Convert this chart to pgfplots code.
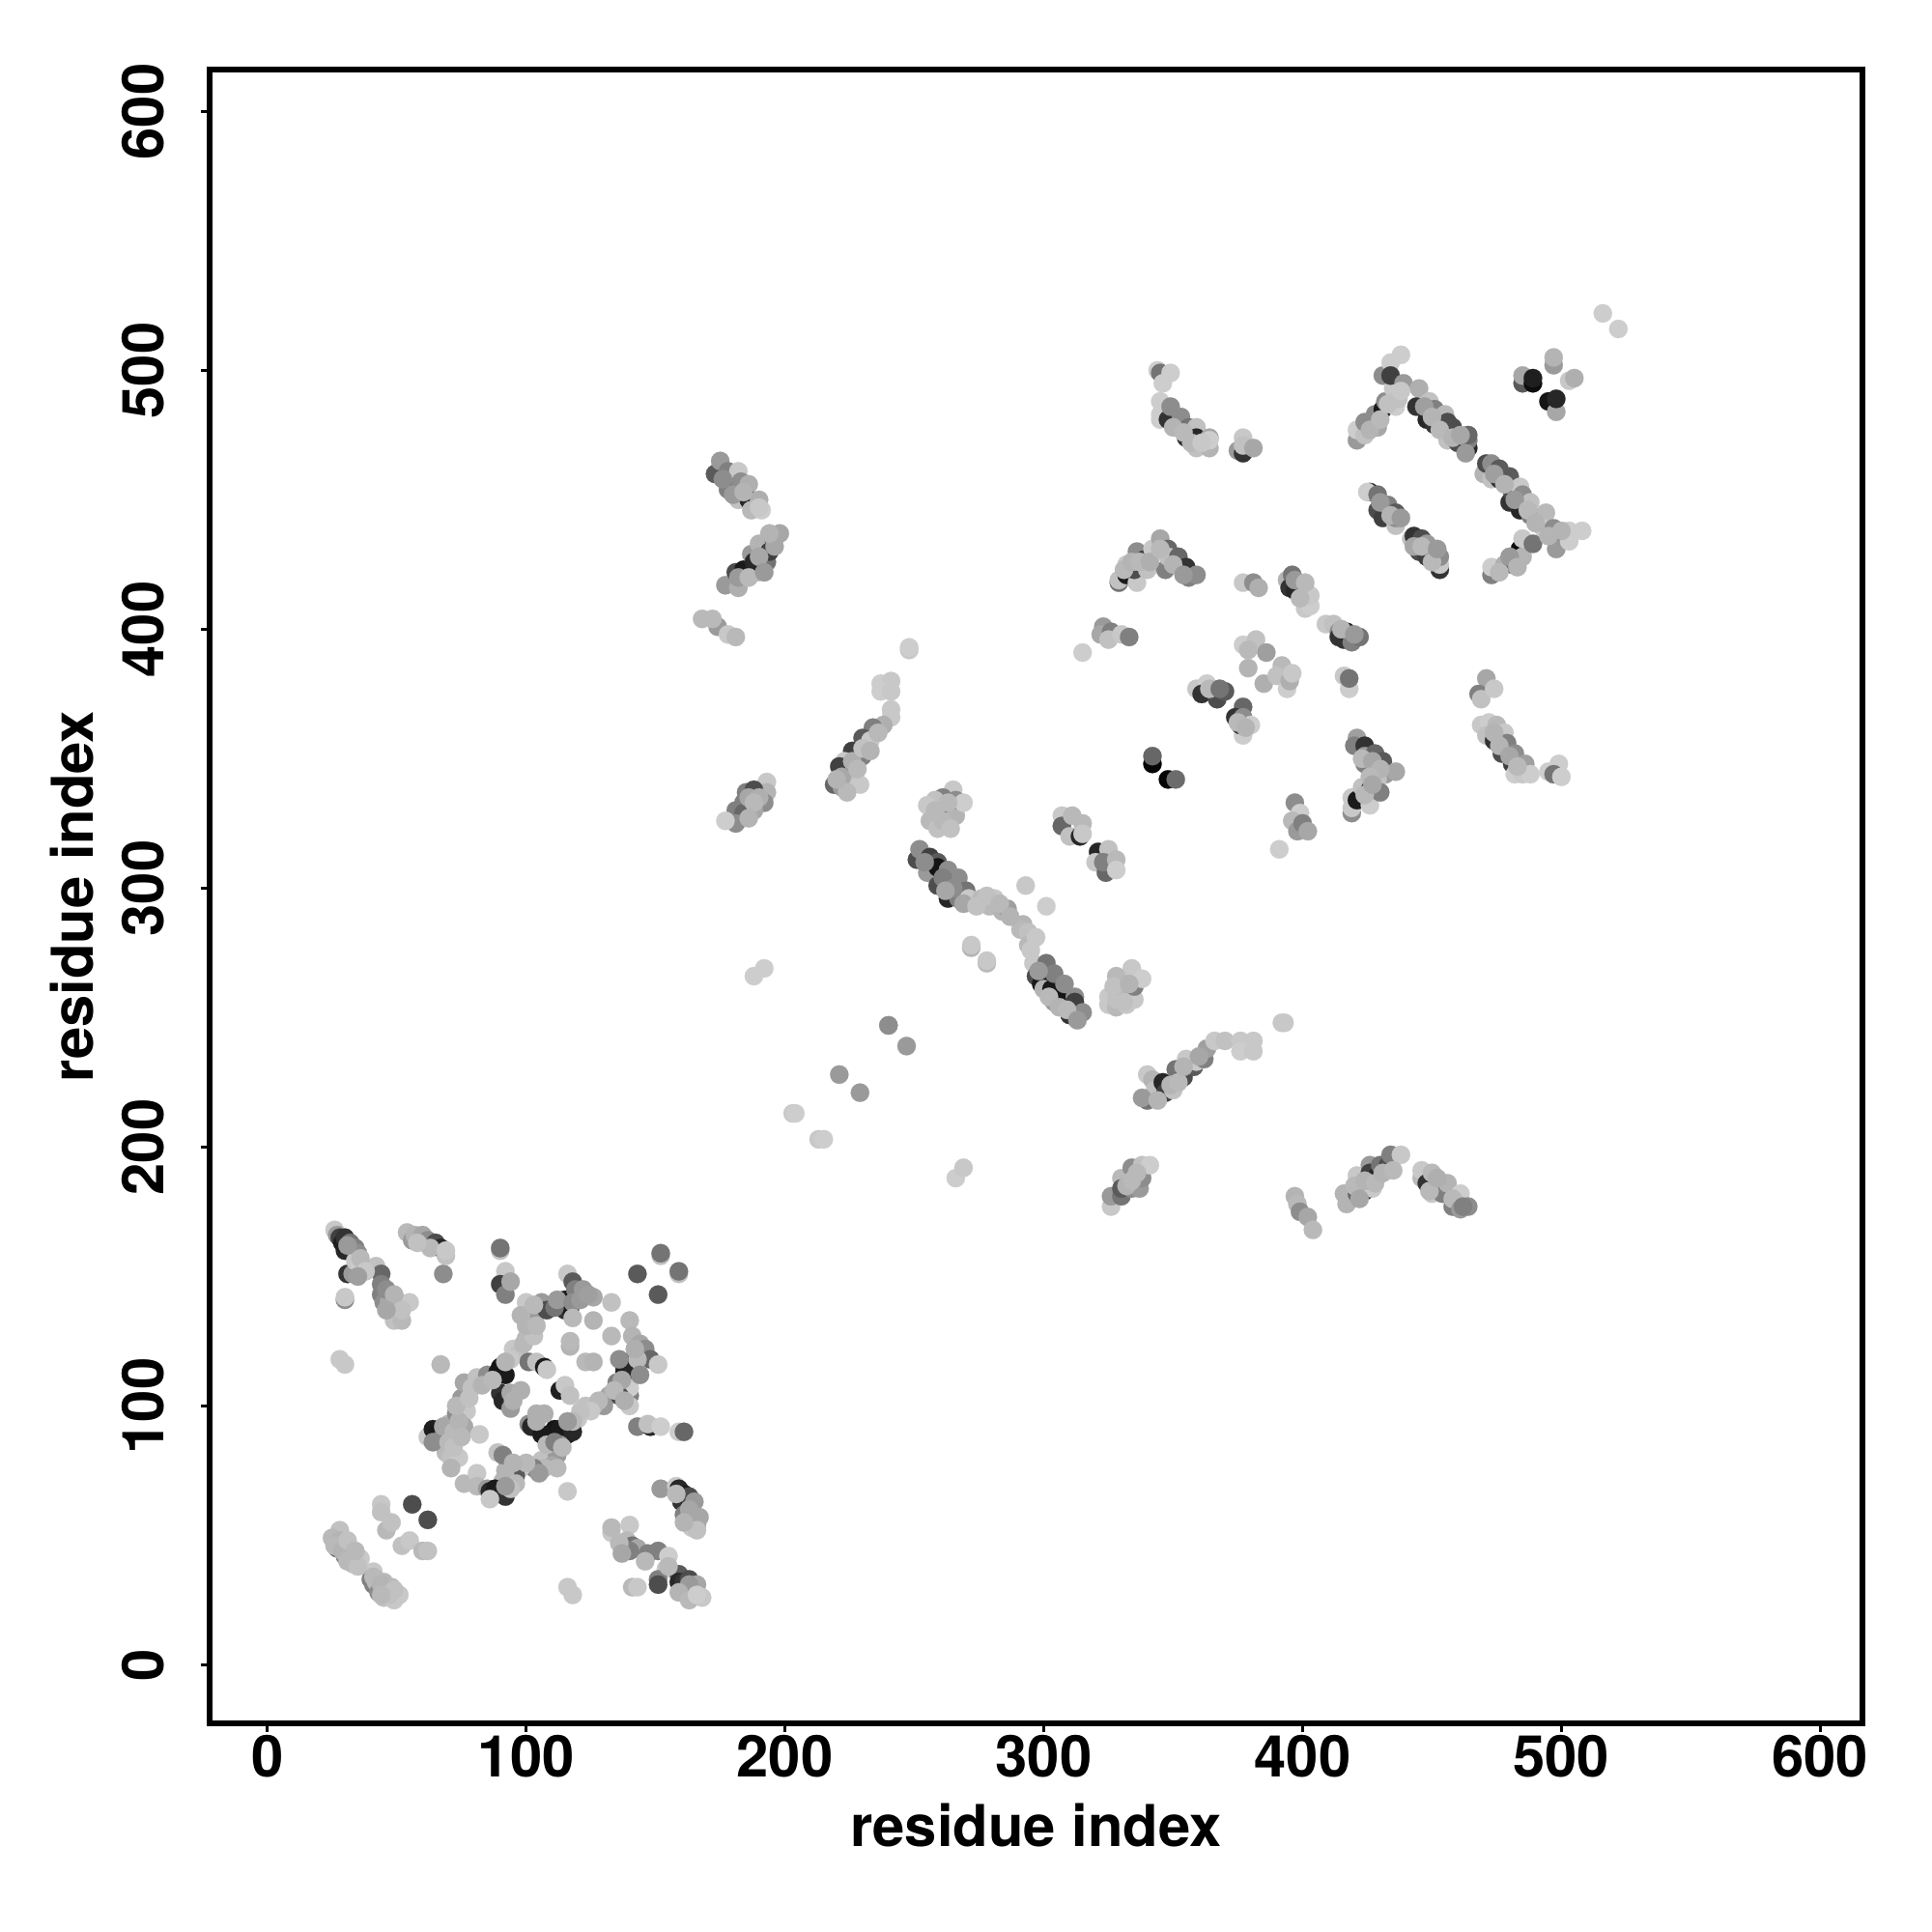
\documentclass[border=0pt]{standalone}
\usepackage{fontspec}
\setmainfont{TeX Gyre Heros}
\usepackage{pgfplots}
\pgfplotsset{compat=1.18}
\begin{document}
\begin{tikzpicture}[x=1cm,y=1cm]
\path[use as bounding box] (-2.167,-2.16) rectangle (17.833,17.84);
\begin{axis}[
  scale only axis, width=17.11cm, height=17.12cm,
  xmin=-22.4, xmax=616.2, ymin=-22.6, ymax=616.2,
  axis line style={line width=1.75pt, line cap=rect},
  xtick={0,100,...,600}, ytick={0,100,...,600},
  xtick pos=bottom, ytick pos=left, tick align=outside,
  major tick length=0.09cm, tick style={line width=0.85pt,black},
  /pgf/number format/assume math mode=true,
  /pgf/number format/1000 sep={},
  tick label style={font=\fontsize{17}{17}\selectfont\bfseries},
  label style={font=\fontsize{17}{17}\selectfont\bfseries},
  xticklabel style={anchor=north, inner sep=0pt, yshift=-0.03cm},
  yticklabel style={rotate=90, anchor=south, inner sep=0pt, yshift=0.37cm},
  xlabel={residue index}, ylabel={residue index},
  xlabel style={at={(axis description cs:0.5,-0.0615)},anchor=center},
  ylabel style={at={(axis description cs:-0.083,0.5)},anchor=center},
  colormap={gr}{gray(0cm)=(0); gray(1cm)=(1)},
  point meta min=0, point meta max=100,
  clip=false,
]
\addplot[scatter, only marks, mark=*, mark size=2.72pt, mark options={line width=0.05pt},
  scatter/use mapped color={draw=mapped color,fill=mapped color}, scatter src=explicit]
 table[row sep=\\, x=x, y=y, meta=g] {
x y g\\
26 168 78\\ 27 166 60\\ 28 165 25\\ 30 160 15\\ 29 163 12\\ 30 165 20\\ 33 161 30\\ 32 163 45\\ 34 161 50\\ 35 159 55\\
31 151 20\\ 33 151 60\\ 34 156 78\\ 36 155 80\\ 42 154 75\\ 44 151 40\\ 44 147 50\\ 44 143 50\\ 45 140 55\\ 47 140 65\\ 49 133 75\\ 52 133 72\\ 51 140 70\\ 55 140 78\\
30 141 55\\ 30 142 78\\
54 167 72\\ 56 164 60\\ 57 166 70\\ 60 166 65\\ 62 164 55\\ 65 163 30\\ 67 161 15\\ 68 151 55\\ 69 158 75\\
90 160 75\\ 90 161 45\\ 92 152 78\\ 90 147 25\\ 92 143 50\\ 94 148 65\\
152 158 75\\ 152 159 45\\ 143 151 35\\ 159 151 75\\ 159 152 45\\ 151 143 35\\
62 88 78\\ 64 91 12\\ 66 90 10\\ 68 89 20\\ 67 87 50\\ 70 93 70\\ 73 97 55\\ 77 98 78\\ 76 92 65\\ 82 89 78\\ 69 82 72\\ 71 80 75\\ 74 80 78\\ 71 76 70\\ 76 70 72\\ 81 74 78\\ 81 69 72\\
75 103 60\\ 76 109 65\\ 79 107 75\\ 81 111 75\\ 85 112 55\\ 89 113 10\\ 90 115 8\\ 92 112 10\\ 95 122 78\\ 97 120 75\\ 100 126 70\\ 101 129 75\\ 102 133 70\\ 104 136 60\\ 100 140 78\\ 106 140 60\\ 108 137 30\\
90 105 20\\ 91 102 15\\ 94 99 60\\ 94 105 65\\ 98 106 68\\ 95 102 68\\
101 117 45\\ 104 117 75\\ 107 115 10\\ 108 114 78\\
116 151 78\\ 118 148 35\\ 115 137 20\\ 115 141 10\\ 117 138 10\\ 119 145 50\\ 122 145 60\\ 126 142 65\\ 133 140 75\\ 126 133 70\\ 140 133 72\\ 117 123 70\\ 117 125 72\\ 133 127 72\\ 123 117 72\\ 126 117 70\\
141 127 70\\ 144 124 65\\ 146 122 55\\ 138 113 15\\ 138 115 12\\ 140 117 20\\ 141 114 15\\ 148 118 40\\ 151 116 78\\
140 104 50\\ 140 100 78\\ 140 107 80\\ 135 109 50\\ 132 104 65\\ 136 104 30\\ 130 100 60\\ 126 100 75\\ 123 100 75\\ 120 95 78\\
112 87 20\\ 111 91 8\\ 113 91 10\\ 116 89 10\\ 118 90 15\\
113 106 12\\ 115 108 78\\ 117 104 75\\
101 93 55\\ 102 92 15\\ 106 89 10\\ 104 97 68\\ 107 97 68\\ 104 94 68\\
106 79 75\\ 110 82 75\\ 112 81 60\\ 110 77 65\\ 107 76 72\\ 103 76 50\\ 98 76 78\\ 96 73 35\\ 92 75 70\\ 91 71 70\\
85 68 60\\ 86 67 15\\ 88 68 10\\ 90 66 12\\ 92 65 20\\
89 82 75\\ 91 81 50\\ 116 67 78\\
143 92 50\\ 148 92 15\\ 147 93 75\\ 152 92 80\\ 159 90 80\\ 161 90 40\\
28 118 78\\ 30 116 78\\ 67 116 72\\
56 62 30\\ 62 56 30\\ 44 62 78\\ 44 59 75\\ 46 52 72\\ 48 55 75\\ 52 46 75\\ 55 48 78\\ 60 44 72\\ 62 44 75\\
28 52 75\\ 25 49 72\\ 27 45 45\\ 28 48 70\\ 30 46 72\\ 30 42 50\\ 32 45 72\\ 33 42 72\\ 33 39 75\\ 36 41 78\\
41 36 78\\ 40 33 50\\ 41 31 50\\ 42 32 72\\ 43 28 55\\ 45 32 72\\ 48 30 72\\ 45 26 75\\ 49 25 78\\ 51 27 78\\
152 68 60\\ 158 69 78\\ 159 68 15\\ 160 63 20\\ 161 66 12\\ 163 65 30\\ 165 63 60\\ 161 58 50\\ 166 54 65\\ 164 53 78\\ 167 57 65\\
133 51 78\\ 133 53 72\\ 140 54 78\\ 139 48 72\\ 141 46 45\\ 143 45 65\\ 140 44 50\\ 147 43 50\\ 151 44 50\\ 155 42 80\\ 154 37 78\\ 151 33 50\\ 151 31 30\\
159 35 35\\ 159 32 15\\ 160 29 10\\ 161 32 20\\ 163 33 30\\ 166 31 65\\ 164 28 75\\ 168 26 78\\
141 30 72\\ 143 30 78\\ 116 30 78\\ 118 27 78\\
173 460 35\\ 175 465 60\\ 178 461 50\\ 182 461 78\\ 178 454 50\\ 183 457 55\\ 186 456 68\\ 182 450 75\\ 186 450 15\\ 190 450 68\\ 187 446 72\\ 191 446 80\\
177 417 60\\ 182 416 68\\ 181 422 30\\ 184 423 10\\ 189 422 70\\ 187 429 60\\ 188 426 15\\ 193 426 45\\ 190 433 70\\ 194 430 25\\ 195 436 35\\ 198 437 65\\
168 404 72\\ 174 401 60\\ 172 404 72\\ 178 398 78\\ 181 397 72\\
248 392 78\\ 248 393 80\\
237 379 80\\ 241 380 78\\ 237 376 80\\ 241 376 78\\ 241 366 78\\ 241 369 78\\ 238 363 68\\ 234 362 50\\ 230 358 35\\ 233 357 78\\
226 353 25\\ 230 351 50\\ 223 349 78\\ 226 345 15\\ 221 347 25\\ 219 340 40\\ 222 339 60\\ 224 341 75\\ 229 340 78\\
193 341 78\\ 193 337 70\\ 185 337 50\\ 188 338 30\\ 192 333 55\\ 184 333 50\\ 188 330 65\\ 181 330 50\\ 184 329 40\\ 181 325 55\\ 177 326 80\\
265 338 78\\ 261 335 50\\ 258 334 75\\ 255 332 78\\ 256 326 72\\ 259 323 75\\ 261 330 45\\ 264 328 20\\ 266 328 70\\ 266 334 55\\ 269 333 80\\
251 311 30\\ 252 315 55\\ 256 312 25\\ 255 306 60\\ 259 310 35\\ 259 308 8\\ 259 301 30\\ 263 304 8\\ 263 307 55\\ 263 296 15\\ 267 304 55\\ 267 296 50\\ 270 299 45\\ 271 296 78\\ 276 296 72\\ 281 296 78\\ 279 293 72\\ 284 291 70\\ 286 292 62\\
293 301 78\\ 301 293 80\\ 272 277 70\\ 272 278 78\\ 278 271 72\\ 278 272 78\\
292 286 70\\ 291 284 72\\ 294 283 75\\ 294 278 72\\ 297 281 78\\ 296 271 78\\ 297 266 30\\ 299 263 10\\ 300 261 70\\ 301 271 45\\ 303 261 10\\ 304 267 50\\ 304 256 60\\ 307 257 8\\ 308 263 55\\ 310 251 20\\ 312 258 55\\ 312 256 25\\ 315 252 55\\
334 269 78\\ 328 266 72\\ 329 261 35\\ 325 258 78\\ 325 255 78\\ 328 254 72\\ 328 257 75\\ 332 255 78\\ 332 259 65\\ 335 257 78\\ 335 262 50\\ 338 265 80\\
240 247 70\\ 240 247 55\\ 247 239 60\\
188 266 80\\ 192 269 80\\ 203 213 78\\ 204 213 80\\ 213 203 78\\ 215 203 80\\ 221 228 60\\ 229 221 60\\
266 188 80\\ 269 192 78\\
326 177 78\\ 326 181 60\\ 330 181 45\\ 330 188 72\\ 330 184 35\\ 334 184 55\\ 337 184 60\\ 334 192 55\\ 338 188 55\\ 338 193 75\\ 341 193 80\\
392 248 78\\ 393 248 78\\
340 218 45\\ 340 228 78\\ 342 226 70\\ 342 219 40\\ 343 222 75\\ 346 225 15\\ 347 221 25\\ 350 222 75\\ 351 230 45\\ 354 227 30\\ 355 234 78\\ 358 231 35\\ 359 233 78\\ 362 234 50\\ 363 238 62\\ 366 241 78\\ 370 241 75\\ 376 241 78\\ 381 241 78\\ 376 237 80\\ 381 237 78\\
397 181 70\\ 398 178 72\\ 399 175 55\\ 402 173 65\\ 404 168 72\\
417 178 70\\ 416 182 70\\ 421 189 78\\ 421 182 40\\ 424 183 15\\ 426 193 60\\ 426 190 25\\ 427 184 78\\ 429 189 15\\ 430 193 45\\ 433 193 30\\ 434 197 50\\ 438 197 78\\
446 188 72\\ 446 191 78\\ 448 186 20\\ 450 190 72\\ 450 182 78\\ 453 184 50\\ 454 182 50\\ 456 186 70\\ 458 177 50\\ 461 182 80\\ 464 177 55\\
344 500 80\\ 345 499 45\\ 349 499 80\\ 346 495 80\\ 345 488 80\\ 345 483 80\\ 345 481 80\\ 348 481 20\\ 349 486 55\\ 352 478 20\\ 353 482 55\\ 355 474 20\\ 356 478 45\\ 359 478 75\\ 359 470 75\\ 359 474 15\\ 364 470 70\\ 364 474 65\\ 364 473 80\\
377 474 78\\ 375 469 60\\ 377 468 20\\ 377 471 75\\ 381 470 65\\
421 473 60\\ 421 477 80\\ 424 475 75\\ 424 480 55\\ 429 478 65\\ 428 483 55\\ 431 485 10\\ 431 498 55\\ 432 488 55\\ 436 486 80\\ 435 493 78\\ 437 489 75\\ 434 503 80\\ 438 506 80\\ 434 498 25\\ 439 495 60\\ 445 493 68\\
444 486 20\\ 449 488 75\\ 448 481 15\\ 451 485 50\\ 451 479 20\\ 455 483 72\\ 456 480 30\\ 456 473 75\\ 458 478 30\\ 460 472 30\\ 464 470 15\\ 464 473 50\\ 464 475 40\\
470 460 70\\ 471 464 30\\ 473 464 55\\ 476 462 35\\ 473 458 75\\ 476 458 20\\ 480 459 35\\ 480 449 20\\ 481 453 30\\ 484 455 78\\ 484 446 15\\ 485 452 55\\ 488 449 75\\ 488 444 50\\ 494 445 72\\ 493 439 78\\ 497 439 55\\ 498 435 35\\ 498 431 60\\ 503 434 80\\ 503 438 80\\ 508 438 80\\
473 421 50\\ 473 424 80\\ 478 425 68\\ 481 425 40\\ 484 431 5\\ 485 428 70\\ 485 435 78\\ 489 433 45\\
426 453 15\\ 425 453 80\\ 429 452 45\\ 429 446 30\\ 431 443 25\\ 433 448 50\\ 436 440 75\\ 436 445 35\\ 436 443 55\\
442 435 75\\ 443 436 20\\ 446 435 30\\ 445 430 30\\ 448 428 25\\ 448 433 60\\ 453 423 20\\ 453 425 78\\ 453 428 55\\
485 495 35\\ 485 498 65\\ 489 495 5\\ 489 497 12\\ 497 502 60\\ 497 505 70\\ 503 496 78\\ 505 497 68\\ 495 488 8\\ 498 484 65\\ 498 489 15\\
516 522 80\\ 522 516 80\\
329 418 45\\ 329 419 75\\ 332 425 78\\ 332 421 10\\ 336 418 78\\ 336 430 55\\ 335 423 30\\ 339 427 25\\ 340 423 75\\ 342 431 78\\ 345 435 65\\ 348 431 40\\ 347 423 50\\ 348 428 75\\ 352 428 40\\ 355 424 20\\ 356 420 50\\ 359 421 55\\
377 418 78\\ 381 418 55\\ 383 416 68\\
394 419 70\\ 396 421 45\\ 395 416 20\\ 397 415 15\\ 399 418 15\\ 401 415 35\\ 401 408 78\\ 403 409 80\\ 403 413 78\\
409 402 78\\ 412 402 75\\ 414 399 55\\ 414 397 20\\ 416 396 20\\ 417 399 12\\ 419 395 50\\ 422 397 45\\
323 401 60\\ 322 398 65\\ 326 399 50\\ 325 396 75\\ 330 398 78\\ 333 397 50\\ 315 391 80\\
377 394 80\\ 382 396 75\\ 379 392 72\\ 386 391 62\\ 379 385 70\\ 385 379 68\\ 392 386 72\\ 390 382 75\\ 394 377 80\\ 395 380 68\\ 396 383 78\\
359 377 78\\ 363 379 80\\ 361 375 20\\ 366 376 70\\ 367 373 30\\ 370 376 35\\
377 370 40\\ 374 366 20\\ 377 359 80\\ 377 366 55\\ 376 363 20\\ 380 363 80\\
416 382 78\\ 418 377 80\\ 418 381 45\\
342 348 2\\ 342 351 40\\ 348 342 2\\ 351 342 42\\
421 358 62\\ 420 355 50\\ 424 355 20\\ 424 348 50\\ 424 351 60\\ 428 352 40\\ 431 349 35\\ 432 344 60\\ 436 345 65\\
419 329 55\\ 419 331 78\\ 419 335 78\\ 421 334 10\\ 423 339 75\\ 426 332 80\\ 426 338 25\\ 429 342 75\\ 430 337 50\\
397 333 55\\ 399 329 80\\ 396 326 72\\ 398 322 60\\ 400 325 50\\ 402 322 65\\ 391 315 80\\
471 381 65\\ 468 375 50\\ 469 373 75\\ 474 377 78\\
469 363 78\\ 472 364 80\\ 475 363 72\\ 471 359 75\\ 474 357 20\\ 478 360 78\\ 479 356 50\\ 477 352 30\\ 481 348 25\\ 482 352 55\\ 486 348 62\\ 482 344 80\\ 485 344 78\\ 488 344 80\\ 495 345 80\\ 499 348 80\\ 497 344 45\\ 500 343 80\\
307 328 78\\ 307 324 40\\ 311 328 72\\ 310 320 75\\ 314 320 15\\ 315 325 72\\ 315 321 78\\
321 314 15\\ 325 315 75\\ 320 310 78\\ 324 306 40\\ 323 310 50\\ 328 311 72\\ 328 307 80\\
64 86 55\\ 68 92 65\\ 72 90 72\\ 74 94 70\\ 70 86 72\\ 72 84 75\\ 75 88 72\\
73 100 72\\ 78 103 75\\ 83 108 70\\ 87 110 72\\ 94 118 78\\ 92 117 70\\ 99 124 72\\ 103 127 75\\ 100 131 70\\ 104 131 72\\ 98 135 70\\ 103 139 72\\ 111 138 45\\
112 141 60\\ 118 140 55\\ 121 141 60\\ 124 143 62\\ 118 134 72\\
143 118 72\\ 142 122 68\\ 136 118 55\\ 144 112 55\\ 137 110 65\\ 134 106 72\\ 138 102 68\\ 128 102 72\\ 125 98 78\\ 121 98 75\\ 118 94 72\\ 116 94 60\\ 113 85 60\\ 108 85 72\\ 111 86 50\\ 114 84 72\\ 112 76 72\\ 105 74 60\\ 100 78 72\\ 95 78 70\\ 96 70 72\\ 94 68 75\\ 86 64 78\\ 92 69 60\\
31 162 60\\ 36 157 72\\ 38 152 78\\ 35 150 62\\ 46 145 55\\ 49 143 70\\ 52 137 75\\ 46 137 65\\
63 161 72\\ 58 163 75\\ 69 160 78\\
26 46 72\\ 29 44 70\\ 31 40 72\\ 35 38 75\\ 31 48 75\\ 34 44 72\\ 41 34 72\\ 44 31 70\\ 47 27 75\\ 49 29 75\\ 44 27 72\\
163 60 65\\ 166 52 75\\ 161 55 70\\ 158 66 72\\ 136 47 72\\ 137 43 65\\ 146 40 72\\ 155 38 72\\ 163 31 60\\ 159 28 70\\ 163 25 72\\ 166 27 80\\
176 458 55\\ 180 452 60\\ 184 453 70\\ 190 447 78\\
182 420 60\\ 186 420 72\\ 190 428 65\\ 192 422 60\\ 196 432 65\\ 194 437 70\\
222 343 65\\ 226 349 68\\ 228 346 72\\ 230 354 75\\ 233 353 70\\ 224 337 72\\ 220 342 70\\ 236 360 72\\
186 335 65\\ 190 335 68\\ 188 333 72\\ 186 327 70\\
258 330 72\\ 261 326 72\\ 263 333 72\\ 264 323 75\\
254 310 55\\ 261 304 50\\ 265 300 55\\ 262 299 65\\ 269 294 65\\ 274 293 75\\ 278 297 75\\ 283 294 72\\ 287 289 70\\
295 276 78\\ 298 268 60\\ 302 258 72\\ 306 254 70\\ 309 253 72\\ 313 249 60\\
330 263 72\\ 327 262 75\\ 333 263 70\\ 331 256 75\\
338 219 60\\ 344 218 70\\ 349 224 70\\ 352 225 72\\ 354 231 70\\ 360 235 65\\
332 185 70\\ 334 187 72\\ 336 190 72\\
420 185 72\\ 424 187 70\\ 428 186 72\\ 431 190 70\\ 422 180 65\\ 435 191 72\\
449 183 72\\ 452 188 68\\ 458 180 72\\ 461 176 60\\ 462 177 50\\
350 478 70\\ 354 476 72\\ 357 472 72\\ 361 472 78\\
426 477 70\\ 430 481 72\\ 433 487 75\\ 438 492 78\\
447 486 62\\ 450 482 70\\ 453 477 72\\ 458 474 70\\ 461 475 65\\ 463 468 60\\
474 460 62\\ 478 456 70\\ 482 450 60\\ 487 446 72\\ 490 441 70\\ 495 436 70\\ 500 438 70\\
476 422 72\\ 480 428 60\\ 483 424 70\\
430 449 60\\ 434 444 70\\ 438 443 60\\ 443 432 65\\ 446 432 72\\ 450 426 72\\ 452 431 60\\
331 423 72\\ 334 426 70\\ 337 426 72\\ 341 426 68\\ 345 431 72\\ 350 425 70\\ 354 421 60\\
397 419 60\\ 401 418 72\\ 399 412 72\\
415 400 70\\ 420 398 60\\
423 350 72\\ 427 349 65\\ 430 346 70\\ 426 343 72\\ 424 336 72\\ 427 340 65\\
364 377 72\\ 368 377 45\\ 375 364 72\\ 378 362 70\\
474 360 70\\ 476 355 70\\ 480 351 65\\ 483 347 72\\
};
\end{axis}
\end{tikzpicture}
\end{document}
